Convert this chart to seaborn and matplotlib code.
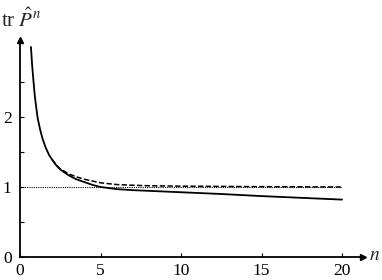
import matplotlib
matplotlib.use("Agg")
import matplotlib.pyplot as plt
import seaborn as sns
import pandas as pd

# data
n_solid = [0.68, 0.75, 0.83, 0.92, 1.0, 1.1, 1.25, 1.4, 1.6, 1.8, 2.0, 2.25, 2.5,
           3.0, 3.5, 4.0, 4.5, 5.0, 6.0, 7.0, 8.0, 10.0, 12.5, 15.0, 17.5, 20.0]
tr_solid = [3.00, 2.75, 2.53, 2.30, 2.15, 1.98, 1.82, 1.69, 1.56, 1.46, 1.39, 1.31, 1.25,
            1.17, 1.11, 1.07, 1.03, 1.00, 0.97, 0.955, 0.945, 0.925, 0.90, 0.87, 0.845, 0.82]
n_dashed = [2.0, 2.25, 2.5, 3.0, 3.5, 4.0, 5.0, 6.0, 7.0, 8.0, 10.0, 15.0, 20.0]
tr_dashed = [1.39, 1.315, 1.26, 1.19, 1.145, 1.11, 1.06, 1.035, 1.025, 1.018, 1.012, 1.005, 1.0]
ref_n = [0, 20]
ref_val = [1, 1]
x_ticks = [0, 5, 10, 15, 20]
y_ticks = [0, 1, 2]
y_minor = [0.5, 1.5, 2.5]

sns.set_style("ticks")
plt.rcParams['font.family'] = ['Liberation Serif', 'DejaVu Serif']
plt.rcParams['mathtext.fontset'] = 'stix'

fig = plt.figure(figsize=(3.82, 2.80), dpi=100)
ax = fig.add_axes([20/382, 23/280, 343/382, 217/280])

df_s = pd.DataFrame({"n": n_solid, "v": tr_solid})
df_d = pd.DataFrame({"n": n_dashed, "v": tr_dashed})
df_r = pd.DataFrame({"n": ref_n, "v": ref_val})

sns.lineplot(data=df_r, x="n", y="v", ax=ax, color="black", lw=0.8, linestyle=(0, (1, 1)))
sns.lineplot(data=df_d, x="n", y="v", ax=ax, color="black", lw=1.1, linestyle=(0, (3.5, 1.5)))
sns.lineplot(data=df_s, x="n", y="v", ax=ax, color="black", lw=1.3)

ax.set_xlim(0, 21.3)
ax.set_ylim(0, 3.1)
ax.set_xlabel("")
ax.set_ylabel("")
for s in ["top", "right"]:
    ax.spines[s].set_visible(False)
for s in ["left", "bottom"]:
    ax.spines[s].set_linewidth(1.3)
    ax.spines[s].set_color("black")

ax.plot(1, 0, ">", color="black", ms=5, transform=ax.transAxes, clip_on=False)
ax.plot(0, 1, "^", color="black", ms=5, transform=ax.transAxes, clip_on=False)

ax.set_xticks(x_ticks)
ax.set_yticks(y_ticks)
ax.set_yticks(y_minor, minor=True)
ax.tick_params(axis="both", which="both", direction="in", length=3, width=0.8,
               colors="black", labelsize=12.5, pad=3)
ax.tick_params(axis="x", pad=4)
ax.tick_params(axis="y", pad=6)

fig.text(1/382, 1 - 27/280, r"tr $\hat{P}^{n}$", fontsize=15, va="baseline", ha="left")
fig.text(369/382, 1 - 256/280, r"$n$", fontsize=14, va="center", ha="left")

fig.savefig("out.png", dpi=100)
